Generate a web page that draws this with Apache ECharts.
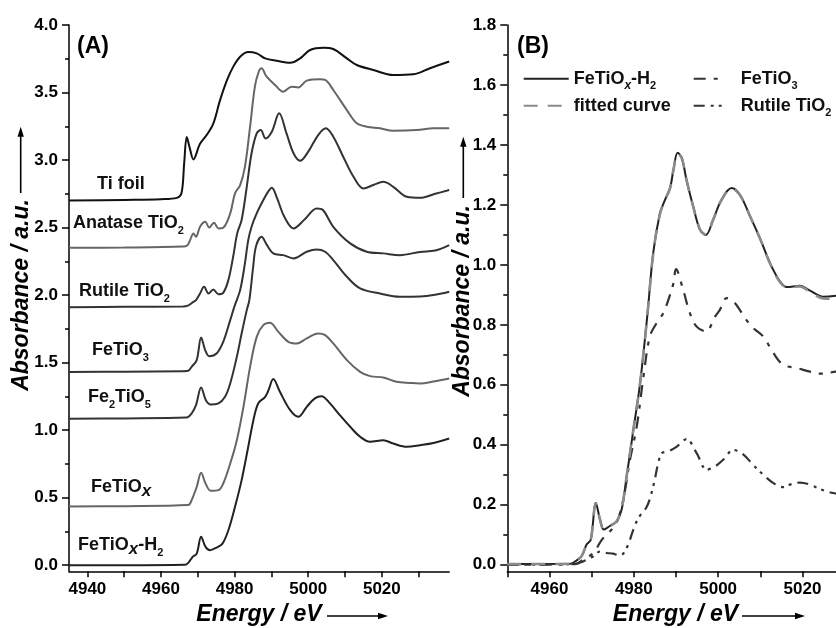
<!DOCTYPE html>
<html>
<head>
<meta charset="utf-8">
<script src="https://cdn.jsdelivr.net/npm/echarts@6/dist/echarts.min.js"></script>
<style>
html,body{margin:0;padding:0;background:#fff;}
#chart{width:836px;height:628px;}
</style>
</head>
<body>
<div id="chart"></div>
<script>
// ---------- Panel (A): Ti K-edge XANES of references and samples (stacked) ----------
const tiFoil = [[4935,2.70],[4950,2.705],[4960,2.71],[4964.3,2.72],[4965.6,2.76],[4966.3,2.98],[4967.0,3.17],[4967.8,3.09],[4968.8,3.005],[4970.6,3.12],[4972.4,3.185],[4974.2,3.27],[4976.0,3.44],[4977.9,3.59],[4979.6,3.69],[4981.5,3.765],[4983.7,3.80],[4986.0,3.79],[4988.3,3.753],[4991.4,3.735],[4995.1,3.72],[4997.8,3.753],[5000.5,3.815],[5004.1,3.832],[5006.8,3.822],[5010.5,3.753],[5013.2,3.704],[5017.7,3.667],[5023.1,3.63],[5028.6,3.635],[5033.1,3.68],[5038.3,3.73]];
const anatase = [[4935,2.35],[4950,2.352],[4966,2.36],[4967.2,2.37],[4967.9,2.407],[4968.8,2.457],[4969.5,2.432],[4970.6,2.506],[4972.0,2.543],[4973.1,2.501],[4974.4,2.536],[4975.6,2.494],[4976.9,2.499],[4978.8,2.605],[4980.1,2.753],[4981.5,2.815],[4982.8,2.95],[4984.2,3.247],[4985.5,3.543],[4986.5,3.65],[4987.3,3.679],[4988.7,3.617],[4991.0,3.556],[4993.2,3.506],[4995.5,3.543],[4997.3,3.538],[4999.6,3.588],[5003.2,3.598],[5004.6,3.593],[5006.8,3.519],[5010.5,3.37],[5013.2,3.272],[5015.9,3.247],[5019.5,3.235],[5023.1,3.217],[5029.5,3.222],[5034,3.235],[5038.3,3.235]];
const rutile = [[4935,1.91],[4950,1.913],[4966,1.915],[4967.3,1.922],[4968.8,1.95],[4969.5,1.963],[4970.6,2.012],[4971.7,2.062],[4972.9,2.012],[4974.2,2.042],[4975.6,2.007],[4976.9,2.017],[4978.3,2.111],[4979.6,2.284],[4980.7,2.457],[4981.9,2.556],[4983.3,2.802],[4984.6,3.05],[4986.0,3.198],[4987.1,3.222],[4988.4,3.16],[4990.1,3.21],[4992.1,3.346],[4994.1,3.198],[4996.0,3.05],[4997.8,2.995],[5000.0,3.062],[5002.7,3.185],[5004.8,3.235],[5006.8,3.173],[5009.5,3.025],[5012.3,2.877],[5015.0,2.79],[5017.7,2.815],[5020.4,2.839],[5023.1,2.802],[5026.8,2.728],[5030.4,2.72],[5034.5,2.75],[5038.3,2.778]];
const ilmenite = [[4935,1.43],[4950,1.433],[4966,1.437],[4967.4,1.44],[4968.3,1.469],[4969.7,1.519],[4970.9,1.686],[4972.0,1.593],[4973.1,1.548],[4975.1,1.568],[4976.9,1.654],[4978.8,1.815],[4980.0,1.92],[4981.5,2.037],[4982.8,2.235],[4983.7,2.407],[4984.6,2.506],[4986.0,2.605],[4987.8,2.704],[4989.2,2.77],[4990.1,2.795],[4991.5,2.72],[4993.5,2.58],[4996.0,2.494],[4999.0,2.56],[5002.3,2.642],[5004.0,2.63],[5006.8,2.506],[5011.4,2.383],[5015.9,2.321],[5020.4,2.309],[5024.9,2.296],[5030.4,2.32],[5034.5,2.33],[5038.3,2.37]];
const pseudobrookite = [[4935,1.085],[4950,1.087],[4966.9,1.093],[4968.3,1.123],[4969.5,1.185],[4970.9,1.316],[4972.2,1.222],[4973.5,1.19],[4975.6,1.198],[4977.4,1.247],[4978.8,1.346],[4980.6,1.543],[4981.9,1.716],[4983.3,1.889],[4984.0,1.963],[4985.0,2.2],[4985.8,2.36],[4987.3,2.432],[4988.8,2.37],[4990.5,2.309],[4993.2,2.296],[4996.0,2.272],[4999.6,2.321],[5002.3,2.338],[5004.6,2.321],[5006.8,2.259],[5010.5,2.136],[5014.1,2.05],[5019.5,2.012],[5024.9,1.988],[5030.4,1.99],[5034,2.0],[5038.3,2.025]];
const feTiOx = [[4935,0.435],[4950,0.437],[4967.4,0.445],[4968.3,0.481],[4969.7,0.58],[4970.9,0.684],[4972.1,0.605],[4973.5,0.551],[4975.6,0.556],[4976.9,0.605],[4978.8,0.753],[4980.6,0.926],[4982.4,1.173],[4984.2,1.469],[4986.0,1.691],[4987.8,1.778],[4989.6,1.795],[4991.9,1.728],[4994.6,1.654],[4996.9,1.642],[4999.6,1.679],[5002.7,1.716],[5004.6,1.704],[5006.8,1.642],[5010.5,1.519],[5014.1,1.432],[5016.8,1.40],[5020.4,1.39],[5024.0,1.358],[5027.6,1.35],[5030.4,1.346],[5034,1.36],[5038.3,1.383]];
const feTiOxH2 = [[4935,0.0],[4950,0.0],[4966.5,0.003],[4967.4,0.017],[4968.6,0.062],[4969.7,0.086],[4970.9,0.21],[4972.1,0.136],[4973.3,0.111],[4975.1,0.131],[4976.7,0.16],[4978.3,0.259],[4980.1,0.432],[4981.9,0.63],[4983.7,0.877],[4985.1,1.074],[4986.4,1.198],[4988.3,1.247],[4989.2,1.296],[4990.5,1.378],[4992.3,1.284],[4995.1,1.148],[4997.3,1.099],[4999.6,1.173],[5001.8,1.235],[5003.6,1.252],[5005.9,1.198],[5008.6,1.111],[5011.4,1.025],[5014.1,0.951],[5016.8,0.914],[5020.4,0.926],[5023.1,0.901],[5026.8,0.877],[5030.4,0.889],[5034,0.905],[5038.3,0.938]];

// ---------- Panel (B): linear combination fit of FeTiOx-H2 ----------
const sampleB = [[4950,0.002],[4964.9,0.003],[4966.1,0.011],[4967.6,0.028],[4968.8,0.067],[4969.8,0.083],[4971.0,0.206],[4972.0,0.15],[4972.9,0.117],[4974.4,0.13],[4975.9,0.144],[4977.1,0.183],[4978.3,0.294],[4979.9,0.45],[4981.5,0.606],[4983.2,0.83],[4984.6,1.039],[4986.2,1.172],[4987.4,1.217],[4988.6,1.256],[4989.4,1.317],[4990.4,1.374],[4991.4,1.356],[4992.5,1.283],[4994.1,1.194],[4995.7,1.117],[4997.1,1.10],[4998.8,1.15],[5000.8,1.217],[5003.2,1.256],[5005.2,1.233],[5007.6,1.161],[5009.9,1.089],[5012.3,1.006],[5014.7,0.944],[5016.3,0.926],[5019.4,0.93],[5021.8,0.914],[5024.9,0.894],[5028.0,0.897],[5032,0.905]];
const fitB = [[4950,0.002],[4964.9,0.003],[4966.1,0.011],[4967.6,0.028],[4968.8,0.066],[4969.8,0.084],[4971.0,0.204],[4972.0,0.15],[4972.9,0.118],[4974.4,0.13],[4975.9,0.144],[4977.1,0.185],[4978.3,0.296],[4979.9,0.452],[4981.5,0.606],[4983.2,0.83],[4984.6,1.037],[4986.2,1.17],[4987.4,1.217],[4988.6,1.256],[4989.4,1.317],[4990.4,1.372],[4991.4,1.355],[4992.5,1.283],[4994.1,1.194],[4995.7,1.118],[4997.1,1.10],[4998.8,1.15],[5000.8,1.216],[5003.2,1.255],[5005.2,1.232],[5007.6,1.161],[5009.9,1.089],[5012.3,1.005],[5014.7,0.942],[5016.3,0.926],[5019.4,0.928],[5021.8,0.91],[5024.9,0.888],[5028.0,0.887],[5032,0.895]];
const ilmeniteB = [[4950,0.0],[4966,0.002],[4968.0,0.017],[4970.4,0.039],[4972.4,0.083],[4974.0,0.106],[4975.9,0.139],[4977.5,0.217],[4979.1,0.35],[4980.7,0.461],[4982.3,0.628],[4983.8,0.761],[4985.4,0.806],[4987.0,0.839],[4988.2,0.883],[4989.4,0.939],[4990.0,0.986],[4991.7,0.917],[4993.3,0.839],[4994.9,0.794],[4997.1,0.778],[4999.3,0.828],[5000.4,0.85],[5002.0,0.889],[5004.0,0.872],[5006.4,0.822],[5008.3,0.79],[5010.7,0.761],[5013.1,0.706],[5015.4,0.667],[5018.6,0.656],[5021.8,0.644],[5024.2,0.637],[5028.0,0.644],[5032,0.65]];
const rutileB = [[4950,0.0],[4966,0.002],[4968.0,0.011],[4970.4,0.028],[4972.0,0.044],[4973.6,0.039],[4975.1,0.037],[4976.7,0.03],[4978.3,0.056],[4979.9,0.117],[4981.1,0.156],[4983.1,0.194],[4984.6,0.261],[4985.8,0.339],[4986.6,0.372],[4988.2,0.378],[4990.2,0.394],[4992.5,0.419],[4994.9,0.372],[4997.3,0.317],[4999.3,0.328],[5001.2,0.35],[5003.6,0.383],[5006.0,0.367],[5008.3,0.333],[5010.7,0.30],[5013.1,0.272],[5015.4,0.259],[5017.0,0.267],[5019.4,0.274],[5021.8,0.267],[5024.2,0.252],[5027.3,0.239],[5032,0.23]];

// ---------- Tick positions ----------
const ticksAx = [4940,4950,4960,4970,4980,4990,5000,5010,5020,5030];
const labelsAx = [4940,4960,4980,5000,5020];
const labelsAy = [0,0.5,1.0,1.5,2.0,2.5,3.0,3.5,4.0];
const minorAy = [0.25,0.75,1.25,1.75,2.25,2.75,3.25,3.75];
const ticksBx = [4950,4960,4970,4980,4990,5000,5010,5020,5030];
const labelsBx = [4960,4980,5000,5020];
const labelsBy = [0,0.2,0.4,0.6,0.8,1.0,1.2,1.4,1.6,1.8];
const minorBy = [0.1,0.3,0.5,0.7,0.9,1.1,1.3,1.5,1.7];

const FONT = '"Liberation Sans", Arial, Helvetica, sans-serif';
const AXIS_LINE = { show: true, onZero: false, lineStyle: { color: '#000', width: 1.5 } };

function xAxisDef(gridIndex, min, max, ticks, labels) {
  return {
    type: 'value', gridIndex, min, max, position: 'bottom',
    axisLine: AXIS_LINE,
    axisTick: { show: true, length: 6, customValues: ticks, lineStyle: { color: '#000', width: 1.5 } },
    axisLabel: { show: true, margin: 10, customValues: labels, color: '#000',
      fontFamily: FONT, fontWeight: 'bold', fontSize: 17, formatter: v => String(Math.round(v)) },
    splitLine: { show: false }
  };
}
function yAxisDef(gridIndex, min, max, labels) {
  return {
    type: 'value', gridIndex, min, max, position: 'left',
    axisLine: AXIS_LINE,
    axisTick: { show: true, length: 7, customValues: labels, lineStyle: { color: '#000', width: 1.5 } },
    axisLabel: { show: true, margin: 11, customValues: labels, color: '#000',
      fontFamily: FONT, fontWeight: 'bold', fontSize: 17, formatter: v => v.toFixed(1) },
    splitLine: { show: false }
  };
}
function yMinorDef(gridIndex, min, max, ticks) {
  return {
    type: 'value', gridIndex, min, max, position: 'left',
    axisLine: { show: false },
    axisTick: { show: true, length: 4, customValues: ticks, lineStyle: { color: '#000', width: 1.5 } },
    axisLabel: { show: false },
    splitLine: { show: false }
  };
}

function curve(name, data, color, xi, yi, extra) {
  return Object.assign({
    name, type: 'line', data, xAxisIndex: xi, yAxisIndex: yi,
    symbol: 'none', smooth: 0.35, animation: false, silent: true,
    lineStyle: { color, width: 2 }, itemStyle: { color }
  }, extra || {});
}

// rich text styles for chemical formulas
const RICH = {
  b: { fontFamily: FONT, fontWeight: 'bold', fontSize: 18, lineHeight: 26, color: '#111' },
  s: { fontFamily: FONT, fontWeight: 'bold', fontSize: 11, lineHeight: 11, verticalAlign: 'bottom', color: '#111' },
  xs: { fontFamily: FONT, fontWeight: 'bold', fontStyle: 'italic', fontSize: 12, lineHeight: 12, verticalAlign: 'bottom', color: '#111' },
  xl: { fontFamily: FONT, fontWeight: 'bold', fontStyle: 'italic', fontSize: 17, lineHeight: 20, verticalAlign: 'bottom', color: '#111' },
  p: { fontFamily: FONT, fontWeight: 'bold', fontSize: 23, lineHeight: 28, color: '#000' }
};

function tag(x, y, text) {
  return { type: 'text', x, y, silent: true,
    style: { text, rich: RICH, align: 'left', verticalAlign: 'middle', fill: '#111' } };
}
function arrowUp(x, yTail, yTip) {
  return [
    { type: 'line', silent: true, shape: { x1: x, y1: yTail, x2: x, y2: yTip + 6 }, style: { stroke: '#000', lineWidth: 1.6 } },
    { type: 'polygon', silent: true, shape: { points: [[x, yTip], [x - 3.2, yTip + 10], [x + 3.2, yTip + 10]] }, style: { fill: '#000' } }
  ];
}
function arrowRight(y, xTail, xTip) {
  return [
    { type: 'line', silent: true, shape: { x1: xTail, y1: y, x2: xTip - 6, y2: y }, style: { stroke: '#000', lineWidth: 1.6 } },
    { type: 'polygon', silent: true, shape: { points: [[xTip, y], [xTip - 10, y - 3.2], [xTip - 10, y + 3.2]] }, style: { fill: '#000' } }
  ];
}
function axisTitle(x, y, text, rotation) {
  return { type: 'text', x, y, rotation: rotation || 0, silent: true,
    style: { text, align: 'center', verticalAlign: 'middle', fill: '#000',
      font: 'italic bold 23px ' + FONT } };
}

const legendText = {
  'FeTiOx-H2': '{b|FeTiO}{xs|x}{b|-H}{s|2}',
  'fitted curve': '{b|fitted curve}',
  'FeTiO3': '{b|FeTiO}{s|3}',
  'Rutile TiO2': '{b|Rutile TiO}{s|2}'
};
const legendBase = {
  top: 69.7, orient: 'vertical', itemHeight: 14, itemGap: 5, padding: 0,
  selectedMode: false, itemStyle: { opacity: 0 },
  formatter: n => legendText[n]
};

const chart = echarts.init(document.getElementById('chart'), null, { renderer: 'canvas' });
chart.setOption({
  backgroundColor: '#fff',
  animation: false,
  grid: [
    { left: 69, top: 25, width: 380.2, height: 546.3, outerBoundsMode: 'none' },
    { left: 507.3, top: 25, width: 379.5, height: 546.3, outerBoundsMode: 'none' }
  ],
  xAxis: [
    xAxisDef(0, 4935, 5038.3, ticksAx, labelsAx),
    xAxisDef(1, 4950, 5040, ticksBx, labelsBx)
  ],
  yAxis: [
    yAxisDef(0, -0.045, 4.0, labelsAy),
    yMinorDef(0, -0.045, 4.0, minorAy),
    yAxisDef(1, -0.022, 1.8, labelsBy),
    yMinorDef(1, -0.022, 1.8, minorBy)
  ],
  legend: [
    Object.assign({}, legendBase, { data: ['FeTiOx-H2', 'fitted curve'], left: 522.7, itemWidth: 45,
      textStyle: { rich: RICH } }),
    Object.assign({}, legendBase, { data: ['FeTiO3', 'Rutile TiO2'], left: 692.7, itemWidth: 29,
      textStyle: { rich: RICH, padding: [0, 0, 0, 13] } })
  ],
  series: [
    curve('Ti foil', tiFoil, '#111', 0, 0),
    curve('Anatase TiO2', anatase, '#666', 0, 0),
    curve('Rutile TiO2 (ref)', rutile, '#333', 0, 0),
    curve('FeTiO3 (ref)', ilmenite, '#333', 0, 0),
    curve('Fe2TiO5', pseudobrookite, '#333', 0, 0),
    curve('FeTiOx', feTiOx, '#666', 0, 0),
    curve('FeTiOx-H2 (ref)', feTiOxH2, '#222', 0, 0),

    curve('FeTiOx-H2', sampleB, '#222', 1, 2),
    curve('FeTiO3', ilmeniteB, '#333', 1, 2, { lineStyle: { color: '#333', width: 2.2, type: [12, 8, 4, 8] } }),
    curve('Rutile TiO2', rutileB, '#333', 1, 2, { lineStyle: { color: '#333', width: 2.2, type: [11, 6, 3, 5, 3, 6] } }),
    curve('fitted curve', fitB, '#8a8a8a', 1, 2, { lineStyle: { color: '#8a8a8a', width: 2.6, type: [14, 10] } })
  ],
  graphic: [
    { type: 'text', x: 77, y: 47, silent: true, style: { text: '{p|(A)}', rich: RICH, verticalAlign: 'middle' } },
    { type: 'text', x: 517, y: 47, silent: true, style: { text: '{p|(B)}', rich: RICH, verticalAlign: 'middle' } },
    tag(97, 184, '{b|Ti foil}'),
    tag(73, 223, '{b|Anatase TiO}{s|2}'),
    tag(79, 291, '{b|Rutile TiO}{s|2}'),
    tag(92, 350, '{b|FeTiO}{s|3}'),
    tag(88, 397, '{b|Fe}{s|2}{b|TiO}{s|5}'),
    tag(91, 487, '{b|FeTiO}{xl|x}'),
    tag(78, 545, '{b|FeTiO}{xl|x}{b|-H}{s|2}'),
    axisTitle(22, 295, 'Absorbance / a.u.', Math.PI / 2),
    axisTitle(463, 301, 'Absorbance / a.u.', Math.PI / 2),
    axisTitle(259, 615, 'Energy / eV'),
    axisTitle(675.5, 615, 'Energy / eV'),
    ...arrowUp(20.7, 193, 126.7),
    ...arrowUp(463.3, 198, 136.7),
    ...arrowRight(616, 327, 388),
    ...arrowRight(616, 742, 805)
  ]
});
</script>
</body>
</html>
